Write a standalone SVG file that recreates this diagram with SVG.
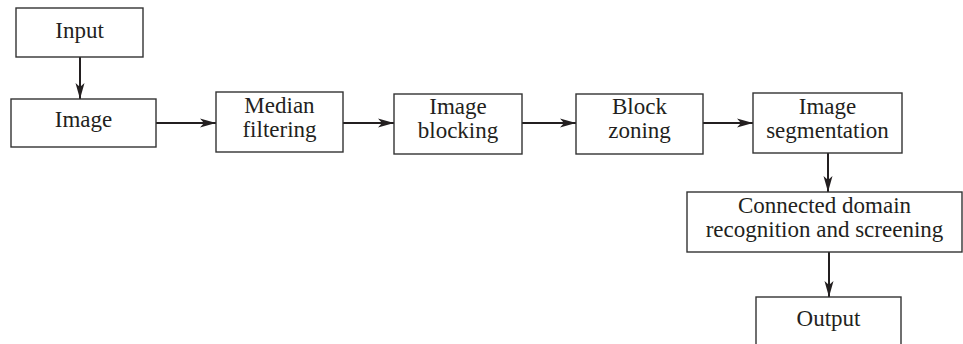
<svg xmlns="http://www.w3.org/2000/svg" width="963" height="344" viewBox="0 0 963 344">
  <style>
    .box { fill: #ffffff; stroke: #333333; stroke-width: 1.4; }
    .lbl { font-family: "Liberation Serif", "Times New Roman", serif; font-size: 23px; fill: #231f20; text-anchor: middle; }
    .edge { fill: none; stroke: #231f20; stroke-width: 2; marker-end: url(#arrow); }
  </style>
  <defs>
    <marker id="arrow" markerUnits="userSpaceOnUse" markerWidth="16" markerHeight="10" viewBox="0 0 16 10" refX="16" refY="5" orient="auto">
      <path d="M0,0.5 L16,5 L0,9.5 L4,5 Z" fill="#231f20"/>
    </marker>
  </defs>
  <rect width="963" height="344" fill="#ffffff"/>

  <g id="connectors">
    <line class="edge" x1="80" y1="57" x2="80" y2="99"/>
    <line class="edge" x1="156" y1="123" x2="216" y2="123"/>
    <line class="edge" x1="343" y1="123" x2="394" y2="123"/>
    <line class="edge" x1="522" y1="123" x2="576" y2="123"/>
    <line class="edge" x1="703" y1="123" x2="753" y2="123"/>
    <line class="edge" x1="828" y1="153" x2="828" y2="192"/>
    <line class="edge" x1="829" y1="252" x2="829" y2="297"/>
  </g>

  <g id="input">
    <rect class="box" x="16" y="8" width="127" height="49"/>
    <text class="lbl" x="79.5" y="38">Input</text>
  </g>
  <g id="image">
    <rect class="box" x="11" y="99" width="145" height="48"/>
    <text class="lbl" x="83.5" y="127">Image</text>
  </g>
  <g id="median-filtering">
    <rect class="box" x="216" y="92" width="127" height="60"/>
    <text class="lbl" x="279.5" y="113">Median</text>
    <text class="lbl" x="279.5" y="137">filtering</text>
  </g>
  <g id="image-blocking">
    <rect class="box" x="394" y="94" width="128" height="60"/>
    <text class="lbl" x="458" y="114">Image</text>
    <text class="lbl" x="458" y="138">blocking</text>
  </g>
  <g id="block-zoning">
    <rect class="box" x="576" y="94" width="127" height="60"/>
    <text class="lbl" x="639.5" y="114">Block</text>
    <text class="lbl" x="639.5" y="138">zoning</text>
  </g>
  <g id="image-segmentation">
    <rect class="box" x="753" y="93" width="149" height="60"/>
    <text class="lbl" x="827.5" y="114">Image</text>
    <text class="lbl" x="827.5" y="138">segmentation</text>
  </g>
  <g id="connected-domain">
    <rect class="box" x="687" y="192" width="275" height="60"/>
    <text class="lbl" x="824.5" y="213">Connected domain</text>
    <text class="lbl" x="824.5" y="237">recognition and screening</text>
  </g>
  <g id="output">
    <rect class="box" x="756" y="297" width="145" height="52"/>
    <text class="lbl" x="828.5" y="326">Output</text>
  </g>
</svg>
